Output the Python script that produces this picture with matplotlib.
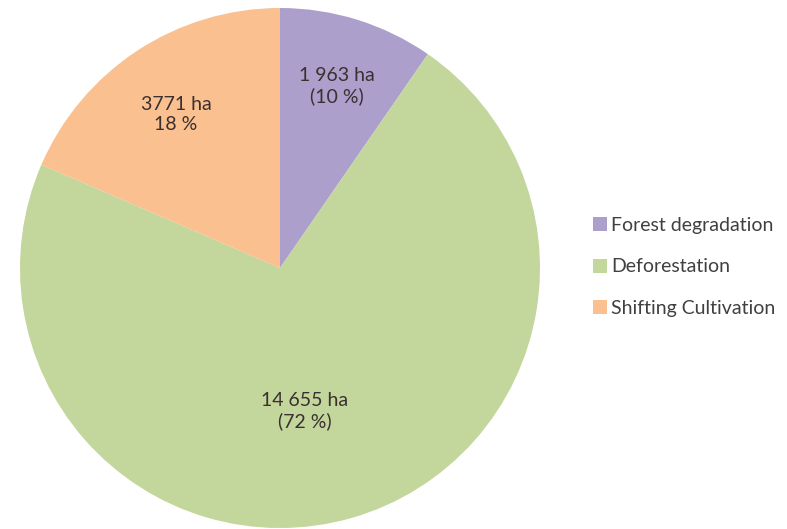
import matplotlib.pyplot as plt
from matplotlib.patches import Patch

categories = ["Forest degradation", "Deforestation", "Shifting Cultivation"]
areas_ha = [1963, 14655, 3771]
slice_labels = ["1 963 ha\n(10 %)", "14 655 ha\n(72 %)", "3771 ha\n18 %"]
colors = ["#ad9fcb", "#c3d69b", "#fac090"]

# label centres inside the slices (axes data units, pie radius = 1)
label_pos = [(0.22, 0.70), (0.096, -0.55), (-0.40, 0.59)]

plt.rcParams["font.family"] = ["Lato", "DejaVu Sans"]

fig = plt.figure(figsize=(7.87, 5.29), dpi=100)
W, H = 787, 529
ax = fig.add_axes([20 / W, 1 / H, 520 / W, 520 / H])

wedges, _ = ax.pie(
    areas_ha,
    colors=colors,
    startangle=90,
    counterclock=False,
    radius=1.0,
    wedgeprops={"linewidth": 0},
)
ax.set_xlim(-1, 1)
ax.set_ylim(-1, 1)
ax.set_aspect("equal")
ax.axis("off")

for (x, y), text in zip(label_pos, slice_labels):
    ax.text(x, y, text, ha="center", va="center", fontsize=14,
            color="#3a3030", linespacing=1.2)

handles = [Patch(facecolor=c, edgecolor="none") for c in colors]
fig.legend(
    handles,
    categories,
    loc="center left",
    bbox_to_anchor=(575 / W, 1 - 267 / H),
    frameon=False,
    fontsize=14,
    labelcolor="#404040",
    handlelength=0.72,
    handleheight=0.72,
    handletextpad=0.25,
    labelspacing=1.26,
)

fig.savefig("out.png", dpi=100)
